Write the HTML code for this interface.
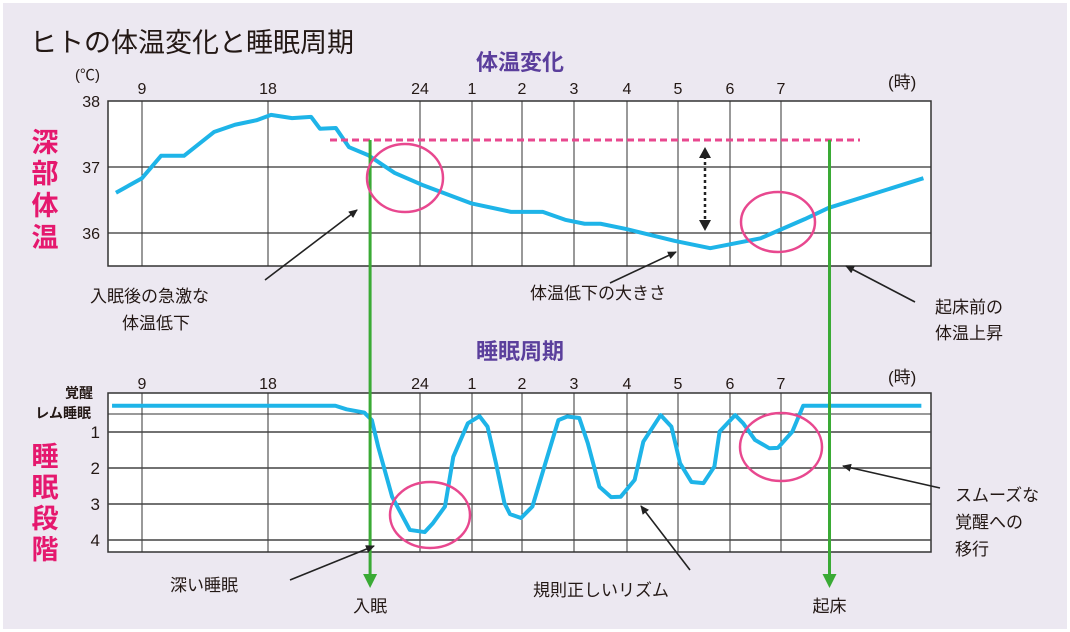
<!DOCTYPE html>
<html><head><meta charset="utf-8">
<style>
html,body{margin:0;padding:0;background:#fff;}
svg{display:block;font-family:"Liberation Sans","Noto Sans CJK JP",sans-serif;}
</style></head>
<body>
<svg id="chart" width="1070" height="632" viewBox="0 0 1070 632">
<rect x="3" y="3" width="1064" height="626" fill="#ece8f1"/>
<defs>
<marker id="ah" markerWidth="10" markerHeight="10" refX="8" refY="5" orient="auto" markerUnits="userSpaceOnUse"><path d="M0,1 L9,5 L0,9 z" fill="#222"/></marker>
</defs>
<text x="30" y="52" font-size="27" fill="#231815">ヒトの体温変化と睡眠周期</text>
<text x="520" y="70" font-size="22" font-weight="bold" fill="#5b3f9c" text-anchor="middle">体温変化</text>
<text x="520" y="359" font-size="22" font-weight="bold" fill="#5b3f9c" text-anchor="middle">睡眠周期</text>
<g font-size="27" font-weight="bold" fill="#e5186e" text-anchor="middle">
<text x="45" y="152">深</text>
<text x="45" y="183">部</text>
<text x="45" y="215">体</text>
<text x="45" y="247">温</text>
<text x="45" y="466">睡</text>
<text x="45" y="497">眠</text>
<text x="45" y="528">段</text>
<text x="45" y="559">階</text>
</g>
<text x="75" y="80" font-size="15" fill="#231815">(℃)</text>
<text x="888" y="88" font-size="17" fill="#231815">(時)</text>
<text x="888" y="383" font-size="17" fill="#231815">(時)</text>
<text x="93" y="398" font-size="14" font-weight="bold" fill="#231815" text-anchor="end">覚醒</text>
<text x="91" y="418" font-size="14" font-weight="bold" fill="#231815" text-anchor="end">レム睡眠</text>
<g id="topPanel"></g><g id="botPanel"></g><g id="annLayer"></g>
</svg>
<script>
const hourTicks=[9,18,24,25,26,27,28,29,30,31];
const hourTickLabels=["9","18","24","1","2","3","4","5","6","7"];
const tempTicks=[38,37,36];
const stageTicks=[1,2,3,4];
const tempHours=[7.14,9.0,10.36,12.0,14.14,15.64,17.21,18.12,18.95,19.7,20.05,20.68,21.2,21.95,23.0,24.04,24.98,25.78,26.4,26.83,27.2,27.5,27.99,28.94,29.62,30.6,31.46,31.92,33.76];
const tempValues=[36.61,36.83,37.17,37.17,37.53,37.64,37.71,37.79,37.74,37.76,37.58,37.59,37.30,37.18,36.91,36.73,36.45,36.32,36.32,36.20,36.14,36.14,36.06,35.88,35.77,35.92,36.21,36.38,36.83];
const stageHours=[6.86,20.66,21.1,21.8,22.1,22.35,22.9,23.6,24.09,24.25,24.48,24.64,24.92,25.15,25.31,25.48,25.65,25.76,25.98,26.2,26.43,26.7,26.87,27.1,27.26,27.48,27.7,27.88,28.15,28.32,28.66,28.87,29.04,29.26,29.49,29.7,29.8,30.1,30.26,30.49,30.77,30.94,31.22,31.43,33.72];
const stageValues=[0.27,0.27,0.37,0.46,0.67,1.41,2.80,3.72,3.78,3.53,3.07,1.69,0.76,0.56,0.85,1.87,2.98,3.28,3.39,3.07,1.96,0.67,0.57,0.61,1.31,2.52,2.81,2.80,2.33,1.27,0.53,0.85,1.87,2.39,2.42,1.96,0.99,0.53,0.76,1.22,1.45,1.44,0.99,0.27,0.27];
const baselineTemp=37.41, sleepHour=22.03, wakeHour=31.94;

const NS="http://www.w3.org/2000/svg";
const PL=108,PR=931;
const tickPx=[142,268,420,472,522,574,627,678,730,781];
function xH(h){
  const t=hourTicks;
  if(h<=t[0]) return tickPx[0]+(h-t[0])*14;
  if(h>=t[t.length-1]) return tickPx[t.length-1]+(h-t[t.length-1])*51.6;
  for(let i=0;i<t.length-1;i++){ if(h<=t[i+1]){return tickPx[i]+(h-t[i])/(t[i+1]-t[i])*(tickPx[i+1]-tickPx[i]);} }
}
function yT(v){return 101+(38-v)*66;}
function yS(s){return 432+(s-1)*36;}
function mk(p,tag,a){const e=document.createElementNS(NS,tag);for(const k in a)e.setAttribute(k,a[k]);p.appendChild(e);return e;}
const topG=document.getElementById('topPanel'), botG=document.getElementById('botPanel'), annG=document.getElementById('annLayer');

let r=mk(topG,'rect',{x:PL,y:101,width:PR-PL,height:165,fill:'#fff',stroke:'#333','stroke-width':1.5});


let r2=mk(botG,'rect',{x:PL,y:393,width:PR-PL,height:159,fill:'#fff',stroke:'#333','stroke-width':1.5});


hourTicks.forEach((h,i)=>{
  let l=mk(topG,'line',{x1:xH(h),x2:xH(h),y1:101,y2:266,stroke:'#333','stroke-width':1});
  
  
  let t=mk(topG,'text',{x:xH(h),y:94,'font-size':16,'text-anchor':'middle',fill:'#231815'});t.textContent=hourTickLabels[i];
  
  
  let l2=mk(botG,'line',{x1:xH(h),x2:xH(h),y1:393,y2:552,stroke:'#333','stroke-width':1});
  
  
  let t2=mk(botG,'text',{x:xH(h),y:389,'font-size':16,'text-anchor':'middle',fill:'#231815'});t2.textContent=hourTickLabels[i];
  
  
});
tempTicks.forEach(v=>{
  if(v<38){let l=mk(topG,'line',{x1:PL,x2:PR,y1:yT(v),y2:yT(v),stroke:'#333','stroke-width':1.2});
  
  }
  let t=mk(topG,'text',{x:100,y:yT(v)+6,'font-size':16,'text-anchor':'end',fill:'#231815'});t.textContent=v;
  
  
});
let p=mk(topG,'polyline',{points:tempHours.map((h,i)=>xH(h)+','+yT(tempValues[i])).join(' '),fill:'none',stroke:'#1eb4e8','stroke-width':4,'stroke-linejoin':'round'});


let dl=mk(topG,'line',{x1:330,x2:860,y1:yT(baselineTemp),y2:yT(baselineTemp),stroke:'#e8488f','stroke-width':3,'stroke-dasharray':'7,4'});



let rem=mk(botG,'line',{x1:PL,x2:PR,y1:yS(0.5),y2:yS(0.5),stroke:'#333','stroke-width':1});


stageTicks.forEach(s=>{
  let l=mk(botG,'line',{x1:PL,x2:PR,y1:yS(s),y2:yS(s),stroke:'#444','stroke-width':1.5});
  
  
  let t=mk(botG,'text',{x:100,y:yS(s)+6,'font-size':17,'text-anchor':'end',fill:'#231815'});t.textContent=s;
  
  
});
let p2=mk(botG,'polyline',{points:stageHours.map((h,i)=>xH(h)+','+yS(stageValues[i])).join(' '),fill:'none',stroke:'#1eb4e8','stroke-width':4,'stroke-linejoin':'round'});



[[sleepHour,'sleep-onset-line','入眠','sleep-onset-label'],[wakeHour,'wake-line','起床','wake-label']].forEach(g=>{
  const gx=xH(g[0]);
  let l=mk(annG,'line',{x1:gx,x2:gx,y1:yT(baselineTemp),y2:576,stroke:'#3aaa35','stroke-width':3});
  
  
  let ah=mk(annG,'path',{d:`M${gx-7},574 L${gx+7},574 L${gx},588 z`,fill:'#3aaa35'});
  
  
  let t=mk(annG,'text',{x:gx,y:612,'font-size':17,'text-anchor':'middle',fill:'#231815'});t.textContent=g[2];
  
  
});
[[405,178,38,34],[778,222,37,30],[430,515,40,33],[781,447,41,34]].forEach(e=>{
  let el=mk(annG,'ellipse',{cx:e[0],cy:e[1],rx:e[2],ry:e[3],fill:'none',stroke:'#e8488f','stroke-width':2.5});
  
  
});
let da=mk(annG,'line',{x1:705,x2:705,y1:156,y2:222,stroke:'#222','stroke-width':2.5,'stroke-dasharray':'3,3'});


let dh=mk(annG,'path',{d:'M699,158 L705,147 L711,158 z M699,220 L705,231 L711,220 z',fill:'#222'});


[[265,280,357,210],[610,283,676,252],[915,302,846,266],[290,580,374,546],[690,570,641,506],[940,488,843,466]].forEach(a=>{
  let l=mk(annG,'line',{x1:a[0],y1:a[1],x2:a[2],y2:a[3],stroke:'#222','stroke-width':1.6,'marker-end':'url(#ah)'});
  
  
});
[[90,302,'入眠後の急激な'],[122,329,'体温低下'],[530,299,'体温低下の大きさ'],[935,313,'起床前の'],[935,339,'体温上昇'],[170,591,'深い睡眠'],[533,596,'規則正しいリズム'],[955,501,'スムーズな'],[955,528,'覚醒への'],[955,555,'移行']].forEach(a=>{
  let t=mk(annG,'text',{x:a[0],y:a[1],'font-size':17,fill:'#231815'});t.textContent=a[2];
  
  
});
</script>
</body></html>
